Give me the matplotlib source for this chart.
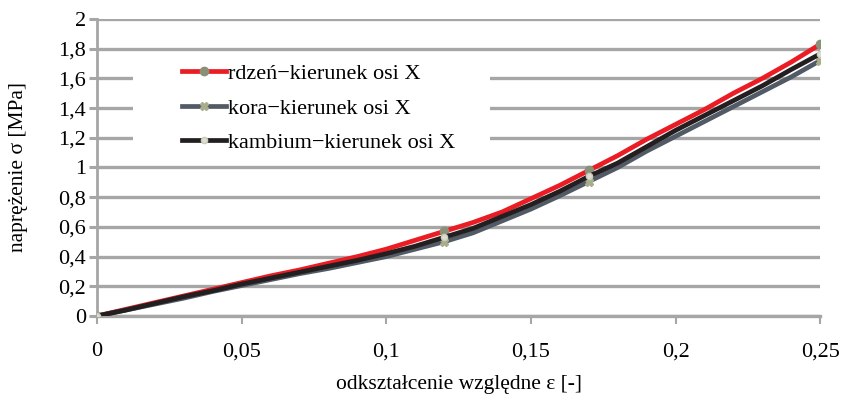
import matplotlib
matplotlib.use('Agg')
import matplotlib.pyplot as plt
from matplotlib.patches import Rectangle
from matplotlib.ticker import FuncFormatter

plt.rcParams['font.family'] = ['Liberation Serif', 'DejaVu Serif']

# strain values and stress curves
strain = [0.00, 0.01, 0.02, 0.03, 0.04, 0.05, 0.06, 0.07, 0.08, 0.09, 0.10, 0.11, 0.12,
          0.13, 0.14, 0.15, 0.16, 0.17, 0.18, 0.19, 0.20, 0.21, 0.22, 0.23, 0.24, 0.25]
rdzen = [0.0, 0.045, 0.09, 0.135, 0.18, 0.225, 0.27, 0.31, 0.355, 0.40, 0.45, 0.51, 0.57,
         0.63, 0.70, 0.79, 0.88, 0.98, 1.08, 1.19, 1.29, 1.39, 1.50, 1.60, 1.71, 1.83]
kora = [0.0, 0.04, 0.08, 0.12, 0.165, 0.205, 0.245, 0.285, 0.32, 0.36, 0.40, 0.45, 0.50,
        0.56, 0.64, 0.72, 0.81, 0.905, 1.00, 1.11, 1.21, 1.31, 1.41, 1.51, 1.61, 1.72]
kambium = [0.0, 0.04, 0.085, 0.13, 0.17, 0.215, 0.255, 0.295, 0.335, 0.375, 0.42, 0.47, 0.53,
           0.59, 0.67, 0.75, 0.84, 0.94, 1.03, 1.14, 1.25, 1.35, 1.45, 1.55, 1.66, 1.765]
marked = [0, 12, 17, 25]

labels = ['rdzeń\u2212kierunek osi X', 'kora\u2212kierunek osi X', 'kambium\u2212kierunek osi X']
xticks = [0, 0.05, 0.1, 0.15, 0.2, 0.25]
yticks = [0, 0.2, 0.4, 0.6, 0.8, 1.0, 1.2, 1.4, 1.6, 1.8, 2.0]

fig = plt.figure(figsize=(8.43, 3.95), dpi=100)
ax = fig.add_axes([0.115, 0.2, 0.858, 0.752])

grid_c = '#a6a6a6'

ax.plot(strain, rdzen, color='#ec1c24', lw=3.4, marker='o', ms=6, mfc='#8b9079', mec='#8b9079',
        markevery=marked, label=labels[0], zorder=3)
ax.plot(strain, kora, color='#525a66', lw=3.4, marker='X', ms=5.5, mfc='#a9ad8c', mec='#a9ad8c',
        markevery=marked, label=labels[1], zorder=3)
ax.plot(strain, kambium, color='#231f20', lw=3.4, marker='o', ms=4.5, mfc='#dcdfcf', mec='#c9ccba',
        markevery=marked, label=labels[2], zorder=3)

ax.set_xlim(0, 0.25)
ax.set_ylim(0, 2)
ax.set_xticks(xticks)
ax.set_yticks(yticks)
fmt = FuncFormatter(lambda v, p: ('%g' % v).replace('.', ','))
ax.xaxis.set_major_formatter(fmt)
ax.yaxis.set_major_formatter(fmt)

ax.set_axisbelow(True)
ax.grid(axis='y', color=grid_c, lw=2.4)
ax.tick_params(axis='y', length=6, width=2.2, color=grid_c, pad=2, labelsize=16)
ax.tick_params(axis='x', length=6, width=1.5, color=grid_c, pad=13, labelsize=16)
for s in ['top', 'right']:
    ax.spines[s].set_visible(False)
ax.spines['left'].set_color(grid_c)
ax.spines['left'].set_linewidth(2)
ax.spines['bottom'].set_color(grid_c)
ax.spines['bottom'].set_linewidth(2.4)

# white box behind the legend hides the grid there
ax.add_patch(Rectangle((0.05, 0.53), 0.494, 0.34, transform=ax.transAxes,
                       facecolor='white', edgecolor='none', zorder=1))

ax.legend(loc='upper left', bbox_to_anchor=(0.118, 0.85), frameon=False, fontsize=16,
          handlelength=1.95, handletextpad=0.12, labelspacing=0.63,
          borderaxespad=0, borderpad=0)

ax.set_xlabel('odkształcenie względne ε [-]', fontsize=15.5)
ax.xaxis.set_label_coords(0.5, -0.2)
ax.set_ylabel('naprężenie σ [MPa]', fontsize=15.5, va='center')
ax.yaxis.set_label_coords(-0.109, 0.5)

fig.savefig('out.png', dpi=100)
